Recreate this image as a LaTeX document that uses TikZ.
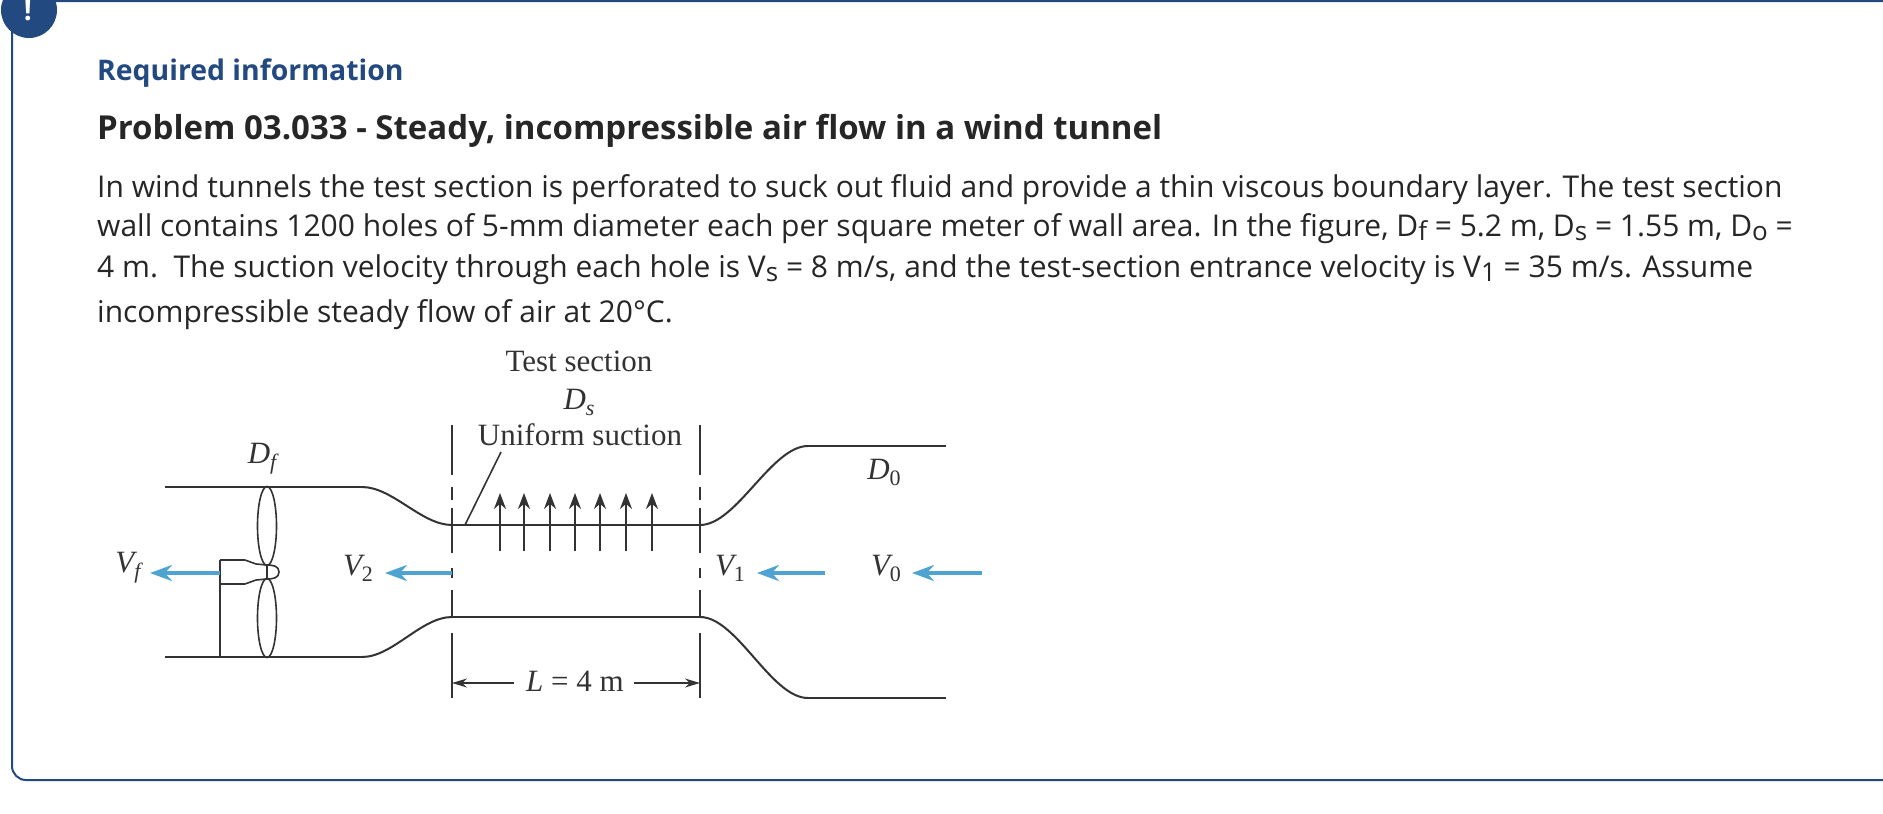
\documentclass[tikz,border=0pt]{standalone}
\usepackage{fontspec}
\usetikzlibrary{arrows.meta,shapes.geometric}
\setmainfont{Open Sans}
\newfontfamily\figfont{Liberation Serif}
\definecolor{navy}{HTML}{234A80}
\definecolor{flowblue}{HTML}{4FA3D1}
\definecolor{inktxt}{HTML}{262626}
\definecolor{inkfig}{HTML}{333333}
\newcommand{\lowtxt}[1]{\raisebox{-0.3ex}{\fontsize{26}{26}\selectfont #1}}
\newcommand{\lowfig}[2]{{\itshape #1}\raisebox{-6pt}{\fontsize{22}{22}\selectfont #2}}
\tikzset{
	bodyline/.style={anchor=base west,inner sep=0pt,text=inktxt,font=\fontsize{30}{35}\selectfont},
	figlabel/.style={inner sep=0pt,text=inkfig,font=\figfont\fontsize{31}{36}\selectfont},
	duct/.style={draw=inkfig,line width=2pt},
	thin line/.style={draw=inkfig,line width=1.6pt},
	flow/.style={draw=flowblue,line width=3.6pt,-{Stealth[length=22pt,width=16pt]}},
	suction/.style={draw=inkfig,line width=1.8pt,-{Stealth[length=16pt,width=12pt]}},
	dimen/.style={draw=inkfig,line width=1.6pt,-{Stealth[length=15pt,width=9pt]}},
	limit/.style={thin line,dash pattern=on 50pt off 12pt on 13pt off 8pt on 45pt off 15pt on 10pt off 12pt on 27pt off 16pt on 65pt},
	blade/.style={shape=ellipse,draw=inkfig,line width=1.6pt,inner sep=0pt,minimum width=19pt,minimum height=79pt}
}
\begin{document}
\begin{tikzpicture}[x=1pt,y=-1pt]
	\clip (0,0) rectangle (1883,814);
	\fill[white] (0,0) rectangle (1883,814);

	% frame
	\coordinate (frameA) at (1883,1);
	\coordinate (frameB) at (12,1);
	\coordinate (frameC) at (12,780);
	\coordinate (frameD) at (1883,780);
	\draw[navy,line width=2pt,rounded corners=14pt] (frameA) -- (frameB) -- (frameC) -- (frameD);
	\node[shape=circle,fill=navy,minimum size=56pt,inner sep=0pt] (badge) at (29,10) {};
	\node[inner sep=0pt,text=white,font=\bfseries\fontsize{28}{28}\selectfont] (mark) at (28,11) {!};

	% text
	\node[anchor=base west,inner sep=0pt,text=navy,font=\bfseries\fontsize{28.4}{34}\selectfont] (required) at (97,80) {Required information};
	\node[anchor=base west,inner sep=0pt,text=inktxt,font=\bfseries\fontsize{33}{36}\selectfont] (title) at (97,139) {Problem 03.033 - Steady, incompressible air flow in a wind tunnel};
	\node[bodyline] (lineA) at (97,197) {In wind tunnels the test section is perforated to suck out fluid and provide a thin viscous boundary layer. The test section};
	\node[bodyline] (lineB) at (97,236) {wall contains 1200 holes of 5-mm diameter each per square meter of wall area. In the figure, D\lowtxt{f} = 5.2 m, D\lowtxt{s} = 1.55 m, D\lowtxt{o} =};
	\node[bodyline] (lineC) at (97,277) {4 m.\ \ The suction velocity through each hole is V\lowtxt{s} = 8 m/s, and the test-section entrance velocity is V\lowtxt{1} = 35 m/s. Assume};
	\node[bodyline] (lineD) at (97,322) {incompressible steady flow of air at 20°C.};

	% figure labels
	\node[figlabel] (testsec) at (579,361) {Test section};
	\node[figlabel] (ds) at (579,402) {\lowfig{D}{\itshape s}};
	\node[figlabel] (uniform) at (580,435) {Uniform suction};
	\node[figlabel] (df) at (262,459) {\lowfig{D}{\itshape f}};
	\node[figlabel] (dzero) at (884,472) {\lowfig{D}{0}};
	\node[figlabel] (vf) at (128,568) {\lowfig{V}{\itshape f}};
	\node[figlabel] (vtwo) at (358,568) {\lowfig{V}{2}};
	\node[figlabel] (vone) at (730,568) {\lowfig{V}{1}};
	\node[figlabel] (vzero) at (886,568) {\lowfig{V}{0}};
	\node[figlabel] (length) at (575,681) {{\itshape L} = 4 m};

	% duct
	\coordinate (upA) at (165,487);
	\coordinate (upB) at (362,487);
	\coordinate (upC) at (452,525);
	\coordinate (upD) at (700,525);
	\coordinate (upE) at (808,446);
	\coordinate (upF) at (946,446);
	\coordinate (loA) at (165,657);
	\coordinate (loB) at (362,657);
	\coordinate (loC) at (452,617);
	\coordinate (loD) at (700,617);
	\coordinate (loE) at (808,698);
	\coordinate (loF) at (946,698);
	\path (upA) edge[duct] (upB);
	\path (upB) edge[duct,out=0,in=180,looseness=0.8] (upC);
	\path (upC) edge[duct] (upD);
	\path (upD) edge[duct,out=0,in=180,looseness=0.7] (upE);
	\path (upE) edge[duct] (upF);
	\path (loA) edge[duct] (loB);
	\path (loB) edge[duct,out=0,in=180,looseness=0.8] (loC);
	\path (loC) edge[duct] (loD);
	\path (loD) edge[duct,out=0,in=180,looseness=0.7] (loE);
	\path (loE) edge[duct] (loF);

	% section limits
	\coordinate (limLa) at (452,425);
	\coordinate (limLb) at (452,698);
	\coordinate (limRa) at (700,425);
	\coordinate (limRb) at (700,698);
	\path (limLa) edge[limit] (limLb);
	\path (limRa) edge[limit] (limRb);

	% fan
	\node[blade] (bladeup) at (267,526) {};
	\node[blade] (bladelo) at (267,618) {};
	\coordinate (hubA) at (220,560);
	\coordinate (hubB) at (245,560);
	\coordinate (hubC) at (256,564);
	\coordinate (hubD) at (267,565);
	\coordinate (hubE) at (220,584);
	\coordinate (hubF) at (245,584);
	\coordinate (hubG) at (256,580);
	\coordinate (hubH) at (267,579);
	\coordinate (hubI) at (279,572);
	\coordinate (foot) at (220,657);
	\path (hubA) edge[thin line] (hubB);
	\path (hubB) edge[thin line] (hubC);
	\path (hubC) edge[thin line] (hubD);
	\path (hubE) edge[thin line] (hubF);
	\path (hubF) edge[thin line] (hubG);
	\path (hubG) edge[thin line] (hubH);
	\path (hubD) edge[duct] (hubH);
	\path (hubD) edge[thin line,out=0,in=90,looseness=1.1] (hubI);
	\path (hubH) edge[thin line,out=0,in=-90,looseness=1.1] (hubI);
	\path (hubA) edge[duct] (foot);

	% flow arrows
	\coordinate (fanOut) at (220,573);
	\coordinate (fanTip) at (150,573);
	\coordinate (twoS) at (452,573);
	\coordinate (twoT) at (385,573);
	\coordinate (oneS) at (825,573);
	\coordinate (oneT) at (757,573);
	\coordinate (zeroS) at (982,573);
	\coordinate (zeroT) at (912,573);
	\path (fanOut) edge[flow] (fanTip);
	\path (twoS) edge[flow] (twoT);
	\path (oneS) edge[flow] (oneT);
	\path (zeroS) edge[flow] (zeroT);

	% suction arrows
	\coordinate (sAa) at (500,551);
	\coordinate (sAb) at (500,493);
	\coordinate (sBa) at (524,551);
	\coordinate (sBb) at (524,493);
	\coordinate (sCa) at (550,551);
	\coordinate (sCb) at (550,493);
	\coordinate (sDa) at (575,551);
	\coordinate (sDb) at (575,493);
	\coordinate (sEa) at (600,551);
	\coordinate (sEb) at (600,493);
	\coordinate (sFa) at (626,551);
	\coordinate (sFb) at (626,493);
	\coordinate (sGa) at (652,551);
	\coordinate (sGb) at (652,493);
	\path (sAa) edge[suction] (sAb);
	\path (sBa) edge[suction] (sBb);
	\path (sCa) edge[suction] (sCb);
	\path (sDa) edge[suction] (sDb);
	\path (sEa) edge[suction] (sEb);
	\path (sFa) edge[suction] (sFb);
	\path (sGa) edge[suction] (sGb);

	% leader and dimension
	\coordinate (leadA) at (465,525);
	\coordinate (leadB) at (501,452);
	\coordinate (dimL) at (452,683);
	\coordinate (dimR) at (700,683);
	\coordinate (gapL) at (514,683);
	\coordinate (gapR) at (634,683);
	\path (leadA) edge[thin line] (leadB);
	\path (gapL) edge[dimen] (dimL);
	\path (gapR) edge[dimen] (dimR);
\end{tikzpicture}
\end{document}
